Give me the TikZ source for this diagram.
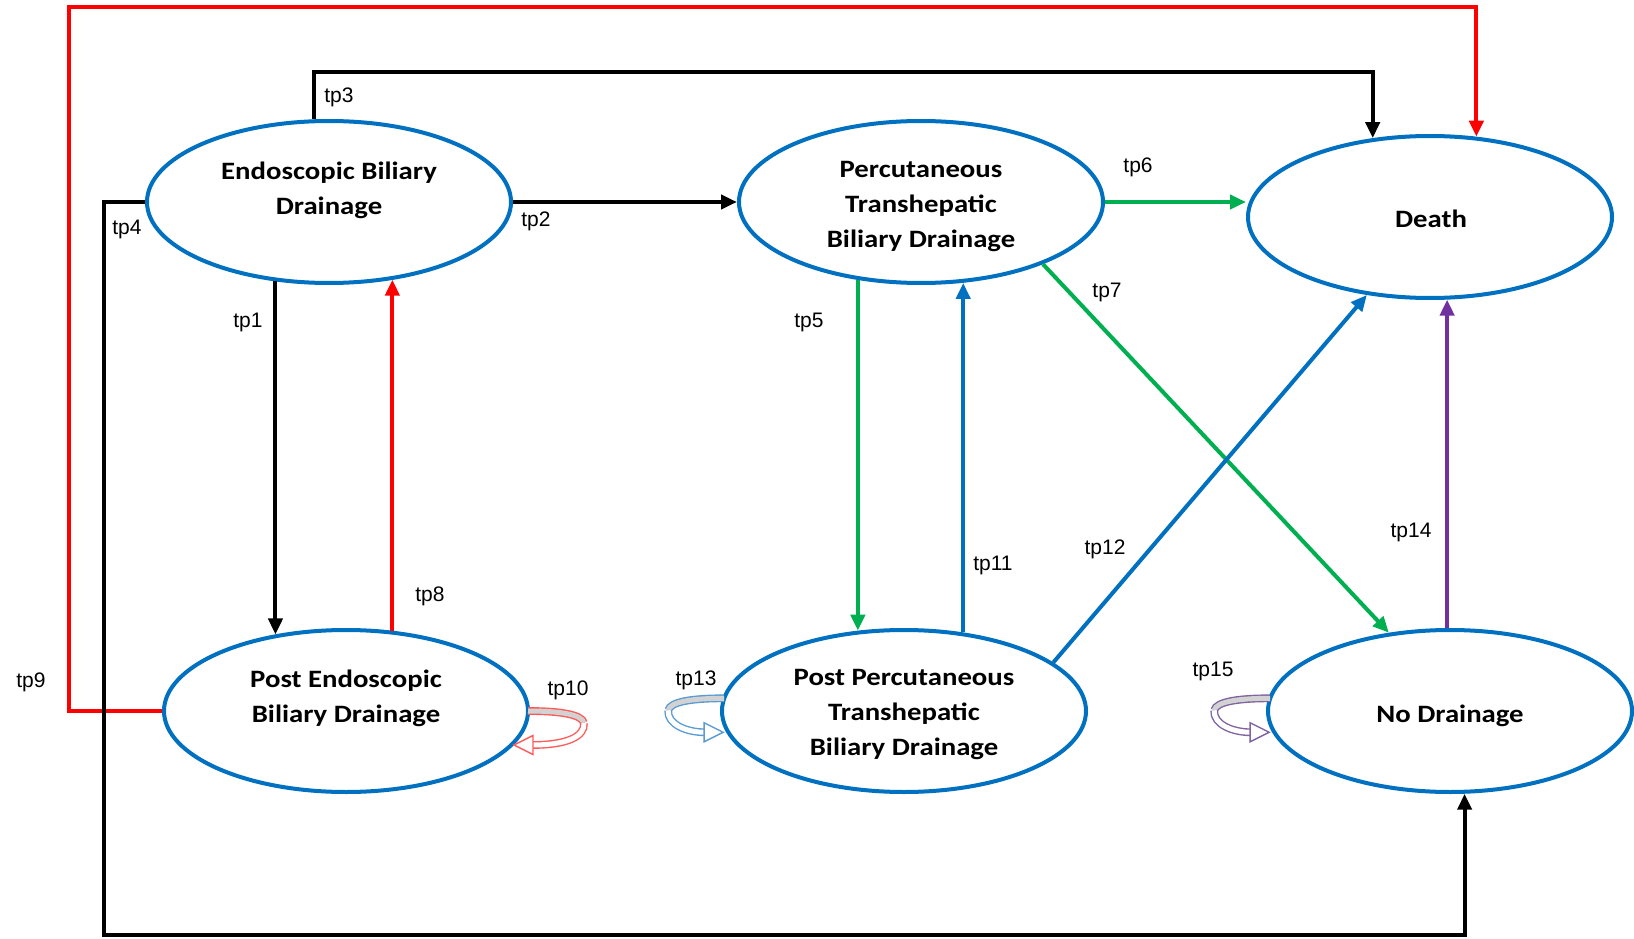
\documentclass[tikz,border=0pt]{standalone}
\usepackage{fontspec}
\setmainfont{Liberation Sans}
\newfontfamily\nodefont[FakeStretch=1.15]{Carlito}
\usetikzlibrary{shapes.geometric,arrows.meta,calc}
\definecolor{eblue}{RGB}{0,112,192}
\definecolor{agreen}{RGB}{0,176,80}
\definecolor{ablue}{RGB}{0,112,192}
\definecolor{apurple}{RGB}{112,48,160}
\definecolor{ared}{RGB}{255,0,0}
\definecolor{lred}{RGB}{255,90,90}
\definecolor{lblue}{RGB}{91,155,213}
\definecolor{lpurple}{RGB}{128,100,162}
\newcommand\selfloop[4]{%
  \begin{scope}[shift={(#1)}, xscale=#2]
    \draw[line width=1.4pt, draw=#3, double=gray!35, double distance=5pt] (-2,0) .. controls (28,0) and (52,3) .. (54,12);
    \draw[line width=1.4pt, draw=#3, double=white, double distance=5pt] (54,12) .. controls (55,26) and (36,34) .. (#4+18,34);
    \filldraw[line width=1.4pt, draw=#3, fill=white] (#4,34) -- (#4+19,24.5) -- (#4+19,43.5) -- cycle;
  \end{scope}}
\begin{document}
\begin{tikzpicture}[x=1pt,y=-1pt,
  state/.style={ellipse, draw=eblue, line width=4pt, minimum width=364pt, minimum height=162pt, inner sep=0pt},
  stext/.style={font=\nodefont\bfseries\fontsize{25}{35}\selectfont, align=center, inner sep=0pt},
  lab/.style={font=\fontsize{21}{24}\selectfont, inner sep=0pt},
  conn/.style={line width=4pt, -{Triangle[length=16pt,width=14pt]}}]
\fill[white] (0,0) rectangle (1634,939);
\useasboundingbox (0,0) rectangle (1634,939);

\node[state] (ebd) at (329,202) {};
\node[state] (ptbd) at (921,202) {};
\node[state] (death) at (1430,217) {};
\node[state] (pebd) at (346,711) {};
\node[state] (pptbd) at (904,711) {};
\node[state] (nod) at (1450,711) {};

\node[stext] (ebdT) at (329,190) {Endoscopic Biliary\\Drainage};
\node[stext] (ptbdT) at (921,207) {Percutaneous\\Transhepatic\\Biliary Drainage};
\node[stext] (deathT) at (1431,219) {Death};
\node[stext] (pebdT) at (346,698) {Post Endoscopic\\Biliary Drainage};
\node[stext] (pptbdT) at (904,715) {Post Percutaneous\\Transhepatic\\Biliary Drainage};
\node[stext] (nodT) at (1450,716) {No Drainage};

% connectors
\coordinate (c9) at (69,7);
\draw[conn, ared] (pebd.west) -| (c9) -| (death.60);
\coordinate (c3) at (800,72);
\draw[conn] (ebd.100) |- (c3) -| (death.126);
\coordinate (c4) at (104,935);
\draw[conn] (ebd.west) -| (c4) -| (nod.-80);
\draw[conn] (ebd.-124) -- (ebd.-124 |- pebd.133);
\draw[conn, ared] (pebd.60) -- (pebd.60 |- ebd.-50);
\draw[conn] (ebd.east) -- (ptbd.west);
\draw[conn, agreen] (ptbd.east) -- (ptbd.east -| death.west);
\draw[conn, agreen] (ptbd.-129) -- (ptbd.-129 |- pptbd.120);
\draw[conn, ablue] (pptbd.53) -- (pptbd.53 |- ptbd.-63);
\draw[conn, agreen] (ptbd.-27) -- (nod.128);
\draw[conn, ablue] (pptbd.18) -- (death.-129);
\draw[conn, apurple] (nod.92) -- (nod.92 |- death.-78);

% self loops
\selfloop{pebd.east}{1}{lred}{-16}
\selfloop{pptbd.176}{-1}{lblue}{-1}
\selfloop{nod.176}{-1}{lpurple}{-1}

% labels
\node[lab] (l1) at (248,322) {tp1};
\node[lab] (l2) at (536,221) {tp2};
\node[lab] (l3) at (339,97) {tp3};
\node[lab] (l4) at (127,229) {tp4};
\node[lab] (l5) at (809,322) {tp5};
\node[lab] (l6) at (1138,167) {tp6};
\node[lab] (l7) at (1107,292) {tp7};
\node[lab] (l8) at (430,596) {tp8};
\node[lab] (l9) at (31,682) {tp9};
\node[lab] (l10) at (568,690) {tp10};
\node[lab] (l11) at (993,565) {tp11};
\node[lab] (l12) at (1105,549) {tp12};
\node[lab] (l13) at (696,680) {tp13};
\node[lab] (l14) at (1411,532) {tp14};
\node[lab] (l15) at (1213,671) {tp15};
\end{tikzpicture}
\end{document}
